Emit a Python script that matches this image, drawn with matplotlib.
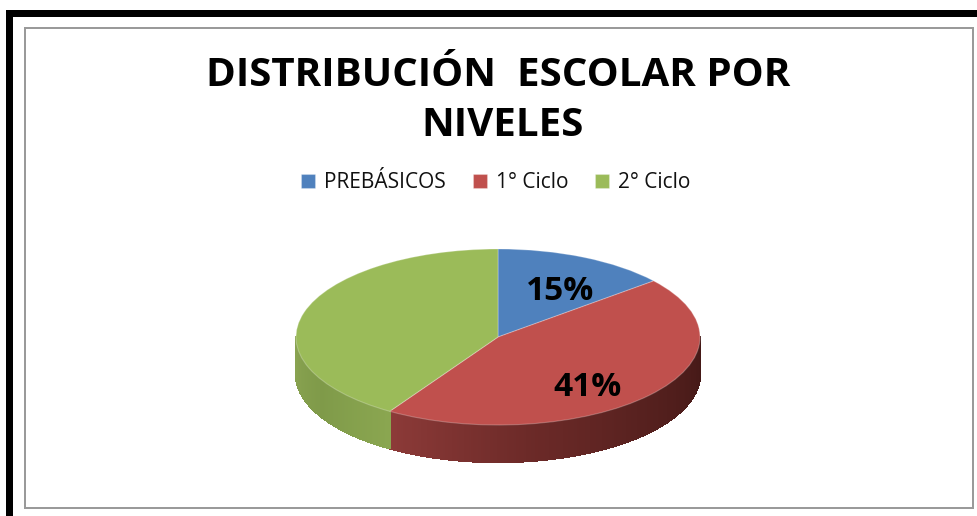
import numpy as np
import matplotlib
matplotlib.use("Agg")
import matplotlib.pyplot as plt
from matplotlib.patches import Rectangle
from matplotlib.collections import PolyCollection
from matplotlib.colors import LinearSegmentedColormap

# --- data ---
categories = ["PREBÁSICOS", "1° Ciclo", "2° Ciclo"]
slice_shares = [14, 45, 41]              # as the slices appear when flattened
slice_labels = ["15%", "41%", ""]        # as printed on the chart
title_lines = ["DISTRIBUCIÓN  ESCOLAR POR", "NIVELES"]

# --- styles ---
colors = ["#4F81BD", "#C0504D", "#9BBB59"]
W, H = 977, 516
CX, CY, RX, RY = 498, 337, 202, 88
DEPTH = 37 / RY

plt.rcParams["font.family"] = ["Open Sans", "DejaVu Sans"]
fig = plt.figure(figsize=(W / 100, H / 100), dpi=100, facecolor="white")


def px_rect(x0, y0, x1, y1, **kw):
    fig.add_artist(Rectangle((x0 / W, 1 - y1 / H), (x1 - x0) / W, (y1 - y0) / H,
                             transform=fig.transFigure, linewidth=0, **kw))


# outer black bars and inner grey frame
px_rect(6, 10, W, 17, facecolor="black")
px_rect(6, 10, 13, H, facecolor="black")
px_rect(24, 27, 974, 29, facecolor="#9a9a9a")
px_rect(24, 27, 26, 509, facecolor="#9a9a9a")
px_rect(972, 27, 974, 509, facecolor="#9a9a9a")
px_rect(24, 507, 974, 509, facecolor="#9a9a9a")

ax = fig.add_axes([(CX - RX) / W, 1 - (CY + RY) / H, 2 * RX / W, 2 * RY / H])

# side wall of the disc, derived from the slice shares
shades = [
    None,
    LinearSegmentedColormap.from_list("r", ["#431816", "#55201e", "#6c2a28", "#8c3a38"]),
    LinearSegmentedColormap.from_list("g", ["#8aa650", "#7f9a49", "#89a351"]),
]
edges = np.cumsum([0] + slice_shares) / sum(slice_shares) * 2 * np.pi
for i, cmap in enumerate(shades):
    if cmap is None:
        continue
    t = np.linspace(edges[i], edges[i + 1], 240)
    t = t[np.cos(t) <= 0.0]
    if i == 2:
        t = t[t <= 1.5 * np.pi + 0.001]
    xs, ys = np.sin(t), np.cos(t)
    polys, vals = [], []
    for k in range(len(t) - 1):
        polys.append([(xs[k], ys[k]), (xs[k + 1], ys[k + 1]),
                      (xs[k + 1], ys[k + 1] - DEPTH), (xs[k], ys[k] - DEPTH)])
        vals.append(k / max(len(t) - 2, 1))
    pc = PolyCollection(polys, array=np.array(vals), cmap=cmap, linewidths=1.0,
                        edgecolors="face", antialiaseds=False, clip_on=False, zorder=1)
    ax.add_collection(pc)

wedges, _ = ax.pie(slice_shares, colors=colors, startangle=90, counterclock=False,
                   radius=1, center=(0, 0),
                   wedgeprops=dict(linewidth=0.8, edgecolor=(1, 1, 1, 0.25), zorder=3))
for w in wedges:
    w.set_clip_on(False)
ax.set_aspect("auto")
ax.set_xlim(-1, 1)
ax.set_ylim(-1, 1)
ax.axis("off")

# printed percentages
label_pos = [(560, 292), (588, 388)]
for text, (px, py) in zip(slice_labels, label_pos):
    fig.text(px / W, 1 - py / H, text, fontsize=24, fontweight="bold",
             color="black", ha="center", va="center", zorder=5)

# title
title_pos = [(498, 76), (503, 126)]
for line, (px, py) in zip(title_lines, title_pos):
    fig.text(px / W, 1 - py / H, line, fontsize=29, fontweight="bold",
             color="black", ha="center", va="center")

# legend
fig.legend(wedges, categories, loc="center", bbox_to_anchor=(496 / W, 1 - 183 / H),
           ncol=3, frameon=False, fontsize=15, handlelength=0.65, handleheight=0.65,
           handletextpad=0.45, columnspacing=1.3, labelcolor="#111111")

fig.savefig("out.png", dpi=100, facecolor="white")
